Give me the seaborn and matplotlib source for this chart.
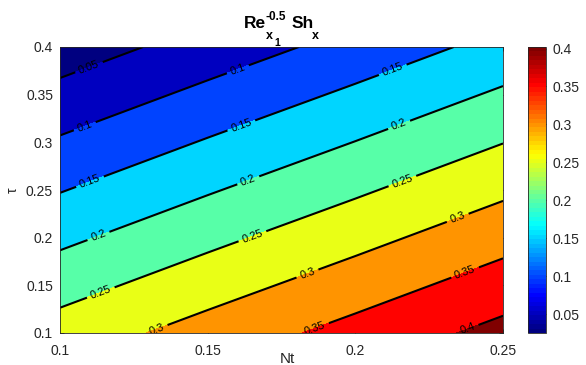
import numpy as np
import matplotlib
matplotlib.use("Agg")
import matplotlib.pyplot as plt
import matplotlib.colors as mcolors
import matplotlib.cm as cm
import seaborn as sns

# ---------------- data ----------------
nt_values = [0.10, 0.15, 0.20, 0.25]          # x grid (Nt)
tau_values = [0.10, 0.20, 0.30, 0.40]         # y grid (tau)
sh_row_tau010 = [0.272, 0.320, 0.367, 0.415]
sh_row_tau020 = [0.189, 0.237, 0.284, 0.332]
sh_row_tau030 = [0.106, 0.154, 0.201, 0.249]
sh_row_tau040 = [0.023, 0.071, 0.118, 0.166]
contour_levels = [0.05, 0.10, 0.15, 0.20, 0.25, 0.30, 0.35, 0.40]
color_limits = [0.0254, 0.402]
x_ticks = [0.10, 0.15, 0.20, 0.25]
y_ticks = [0.10, 0.15, 0.20, 0.25, 0.30, 0.35, 0.40]
cbar_ticks = [0.05, 0.10, 0.15, 0.20, 0.25, 0.30, 0.35, 0.40]

# ---------------- style ----------------
sns.set_style("white")
plt.rcParams["font.family"] = ["Liberation Sans", "DejaVu Sans"]

txt = (0.15, 0.15, 0.15)
W, H = 586, 365

# MATLAB-style jet colormap
cdict = {
    "red":   [(0, 0, 0), (3 / 8, 0, 0), (5 / 8, 1, 1), (7 / 8, 1, 1), (1, 0.5, 0.5)],
    "green": [(0, 0, 0), (1 / 8, 0, 0), (3 / 8, 1, 1), (5 / 8, 1, 1), (7 / 8, 0, 0), (1, 0, 0)],
    "blue":  [(0, 0.5, 0.5), (1 / 8, 1, 1), (3 / 8, 1, 1), (5 / 8, 0, 0), (1, 0, 0)],
}
cmap = mcolors.LinearSegmentedColormap("matlab_jet", cdict, N=64)
norm = mcolors.Normalize(vmin=color_limits[0], vmax=color_limits[1])

fig = plt.figure(figsize=(W / 100, H / 100), dpi=100)
ax = fig.add_axes([60 / W, 32 / H, 443 / W, 286 / H])
cax = fig.add_axes([528 / W, 32 / H, 18 / W, 286 / H])

X, Y = np.meshgrid(nt_values, tau_values)
Z = np.array([sh_row_tau010, sh_row_tau020, sh_row_tau030, sh_row_tau040])

fill_levels = [min(Z.min(), contour_levels[0]) - 0.01] + contour_levels + \
              [max(Z.max(), contour_levels[-1]) + 0.01]
fill_colors = [cmap(norm(max(lv, color_limits[0]))) for lv in fill_levels[:-1]]
fill_colors[0] = cmap(0.0)

ax.contourf(X, Y, Z, levels=fill_levels, colors=fill_colors)
cs = ax.contour(X, Y, Z, levels=contour_levels, colors="k", linewidths=1.5)

label_positions = [
    (0.1098, 0.379),
    (0.1085, 0.316), (0.1603, 0.3759),
    (0.1102, 0.2584), (0.1616, 0.316), (0.2127, 0.3759),
    (0.1129, 0.2028), (0.1637, 0.2605), (0.2151, 0.316),
    (0.1135, 0.1451), (0.1650, 0.2028), (0.2158, 0.2605),
    (0.1322, 0.1084), (0.1836, 0.164), (0.2347, 0.2206),
    (0.1857, 0.1105), (0.2371, 0.164),
    (0.2378, 0.1063),
]
ax.clabel(cs, fmt="%g", fontsize=8, inline=True, inline_spacing=4,
          manual=label_positions)

ax.set_xlim(nt_values[0], nt_values[-1])
ax.set_ylim(tau_values[0], tau_values[-1])
ax.set_xticks(x_ticks)
ax.set_yticks(y_ticks)
ax.set_xticklabels([f"{v:g}" for v in x_ticks])
ax.set_yticklabels([f"{v:g}" for v in y_ticks])
ax.tick_params(axis="x", pad=8)
ax.tick_params(axis="y", pad=5)
ax.tick_params(direction="in", length=3, width=0.6, top=True, right=True,
               bottom=True, left=True, labelsize=10, colors=txt)
for sp in ax.spines.values():
    sp.set_color(txt)
    sp.set_linewidth(0.6)

# axis labels
fig.text(287 / W, (H - 363) / H, "Nt", fontsize=11, color=txt,
         ha="center", va="baseline")
fig.text(13 / W, (H - 190) / H, "τ", fontsize=10, color=txt,
         ha="center", va="center", rotation=90)

# title  Re_{x_1}^{-0.5} Sh_x  built from pieces
def tpix(x, y_base, s, size):
    fig.text(x / W, (H - y_base) / H, s, fontsize=size, fontweight="bold",
             color="k", ha="left", va="baseline")

tpix(244, 28, "Re", 12.5)
tpix(266, 20, "-0.5", 8.5)
tpix(266, 39, "x", 9)
tpix(274, 46, "1", 7.5)
tpix(292, 28, "Sh", 12.5)
tpix(312, 39, "x", 9)

sm = cm.ScalarMappable(norm=norm, cmap=cmap)
cb = fig.colorbar(sm, cax=cax, ticks=cbar_ticks)
cb.ax.set_yticklabels([f"{v:g}" for v in cbar_ticks])
cb.ax.tick_params(direction="in", length=3, width=0.6, labelsize=10, colors=txt, pad=5)
cb.outline.set_edgecolor(txt)
cb.outline.set_linewidth(0.6)

fig.savefig("out.png", dpi=100)
